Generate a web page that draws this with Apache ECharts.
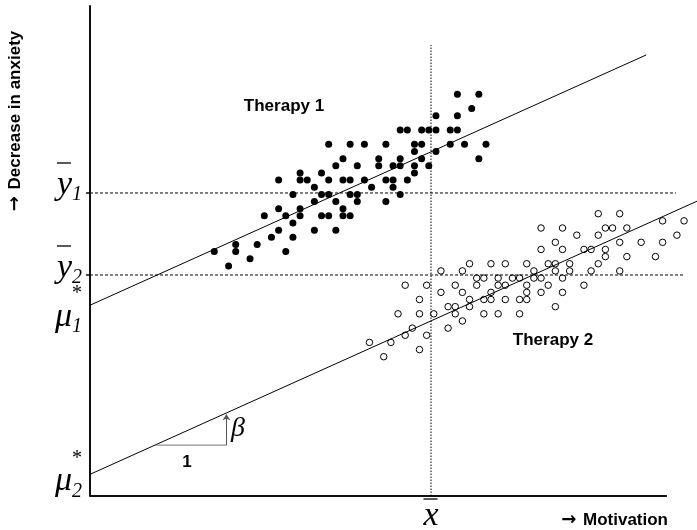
<!DOCTYPE html>
<html><head><meta charset="utf-8">
<script src="https://cdn.jsdelivr.net/npm/echarts@6/dist/echarts.min.js"></script>
<style>html,body{margin:0;padding:0;background:#fff}#c{width:697px;height:530px}</style>
</head><body><div id="c"></div>
<script>
// Therapy 1 (filled dots): [motivation, decrease in anxiety]
const therapy1 = [
  [36,58],[39,58],
  [38,56],
  [33,55],[36,55],
  [28,53],[29,53],[31,53],[32,53],[33,53],[35,53],[36,53],
  [18,51],[21,51],[23,51],[26,51],[30,51],[31,51],[35,51],[37,51],[40,51],
  [30,50],[33,50],
  [20,49],[25,49],[28,49],[31,49],[39,49],
  [19,48],[22,48],[25,48],[27,48],[28,48],[30,48],[32,48],
  [14,47],[17,47],[30,47],
  [11,46],[14,46],[15,46],[18,46],[20,46],[21,46],[23,46],[26,46],[27,46],[29,46],
  [16,45],[24,45],[27,45],
  [13,44],[17,44],[18,44],[21,44],[22,44],[28,44],
  [16,43],[19,43],[22,43],[26,43],
  [11,42],[14,42],[20,42],
  [9,41],[12,41],[14,41],[17,41],[18,41],[20,41],[21,41],
  [13,40],
  [11,39],[16,39],[19,39],
  [10,38],[13,38],
  [5,37],[8,37],
  [2,36],[5,36],[12,36],
  [7,35],
  [4,34]
];
// Therapy 2 (hollow dots)
const therapy2 = [
  [55.7,41.3],[58.7,41.3],
  [64.7,40.3],[67.7,40.3],
  [47.7,39.3],[50.7,39.3],[56.7,39.3],[57.7,39.3],[59.7,39.3],
  [52.7,38.3],[55.7,38.3],[66.7,38.3],
  [49.7,37.3],[58.7,37.3],[61.7,37.3],[64.7,37.3],
  [47.7,36.3],[50.7,36.3],[53.7,36.3],[54.7,36.3],[56.7,36.3],
  [56.7,35.3],[59.7,35.3],[63.7,35.3],
  [37.7,34.3],[40.7,34.3],[42.7,34.3],[45.7,34.3],[48.7,34.3],[49.7,34.3],[51.7,34.3],[55.7,34.3],
  [33.7,33.3],[36.7,33.3],[46.7,33.3],[49.7,33.3],[51.7,33.3],[54.7,33.3],[58.7,33.3],
  [38.7,32.3],[39.7,32.3],[41.7,32.3],[43.7,32.3],[44.7,32.3],[46.7,32.3],[47.7,32.3],[50.7,32.3],
  [28.7,31.3],[31.7,31.3],[35.7,31.3],[38.7,31.3],[41.7,31.3],[42.7,31.3],[45.7,31.3],[48.7,31.3],[53.7,31.3],
  [33.7,30.3],[36.7,30.3],[40.7,30.3],[45.7,30.3],[47.7,30.3],[50.7,30.3],
  [30.7,29.3],[37.7,29.3],[39.7,29.3],[40.7,29.3],[42.7,29.3],[44.7,29.3],[45.7,29.3],
  [34.7,28.3],[35.7,28.3],[37.7,28.3],[49.7,28.3],
  [27.7,27.3],[30.7,27.3],[32.7,27.3],[35.7,27.3],[39.7,27.3],[41.7,27.3],[44.7,27.3],
  [36.7,26.3],
  [29.7,25.3],[34.7,25.3],
  [28.7,24.3],[31.7,24.3],
  [23.7,23.3],[26.7,23.3],
  [30.7,22.3],
  [25.7,21.3]
];
// axis ranges (data units)
const xRange = [-15.38, 69.51];
const yRange = [1.82, 70.35];
const xAxisEnd = 65.3;
// group intercepts at the y axis (mu1*, mu2*) and common slope beta
const muStar = [28.5, 4.85];
const beta = 0.45;
const lineEnds = [62.4, 69.51];
// group means of y and grand mean of x
const yBar = [44.2, 32.73];
const yBarEnds = [66.57, 67.55];
const xBar = 32.31;
const xBarTop = 64.9;
// slope triangle: one unit step (10 units) on line 2
const stepX = [-6.3, 3.7];
// text annotations
const noteTexts = ['Therapy 1', 'Therapy 2', '1', 'β'];
const noteAt = [[11.75, 56.36], [49.37, 23.64], [-1.82, 6.57], [5.3, 11.19]];

const lineAt = (mu, x) => mu + beta * (x - xRange[0]);
const serif = 'Liberation Serif';
const sans = 'Liberation Sans';
const rich = {
  v: {fontFamily: serif, fontStyle: 'italic', fontSize: 34, lineHeight: 30, color: '#000'},
  s: {fontFamily: serif, fontStyle: 'italic', fontSize: 20, lineHeight: 40, verticalAlign: 'bottom', color: '#000'},
  bar: {width: 14, height: 1.3, backgroundColor: '#000', lineHeight: 4, align: 'left'},
  ast: {fontFamily: serif, fontSize: 20, lineHeight: 6, align: 'right', color: '#000'},
  b: {fontFamily: serif, fontStyle: 'italic', fontSize: 28, color: '#000'},
  t: {fontFamily: sans, fontWeight: 'bold', fontSize: 17, color: '#000'},
  a: {fontFamily: 'DejaVu Sans', fontWeight: 'bold', fontSize: 18, color: '#000'}
};
const mathLabel = (text, position, offset) => ({show: true, position, offset, formatter: text, rich, distance: 8, color: '#000'});

const base = {type: 'line', symbol: 'circle', symbolSize: 0, showSymbol: true, clip: false, silent: true, z: 2,
  label: {show: false}};

const noteSeries = noteTexts.map((txt, i) => Object.assign({}, base, {
  name: 'note ' + txt, z: 5, lineStyle: {opacity: 0, width: 0},
  data: [{value: noteAt[i], label: {show: true, position: 'inside', color: '#000', textBorderWidth: 0,
    formatter: txt === 'β' ? '{b|β}' : '{t|' + txt + '}', rich}}]
}));

const chart = echarts.init(document.getElementById('c'));
chart.setOption({
  animation: false,
  backgroundColor: '#fff',
  grid: {left: 90, right: 0, top: 6, bottom: 34},
  xAxis: {type: 'value', min: xRange[0], max: xRange[1], axisLine: {show: false}, axisTick: {show: false},
    axisLabel: {show: false}, splitLine: {show: false}},
  yAxis: {type: 'value', min: yRange[0], max: yRange[1],
    axisLine: {show: true, onZero: false, lineStyle: {color: '#111', width: 2}},
    axisTick: {show: false}, axisLabel: {show: false}, splitLine: {show: false}},
  graphic: [
    {type: 'text', x: 15, y: 121, rotation: Math.PI / 2,
      style: {text: '{a|→}  {t|Decrease in anxiety}', rich, fill: '#000',
        align: 'center', verticalAlign: 'middle', textAlign: 'center', textVerticalAlign: 'middle'}},
    {type: 'text', x: 668, y: 520,
      style: {text: '{a|→}  {t|Motivation}', rich, fill: '#000',
        align: 'right', verticalAlign: 'middle', textAlign: 'right', textVerticalAlign: 'middle'}}
  ],
  series: [
    Object.assign({}, base, {name: 'x axis', data: [[xRange[0], yRange[0]], [xAxisEnd, yRange[0]]],
      lineStyle: {color: '#111', width: 2}}),
    {type: 'lines', coordinateSystem: 'cartesian2d', silent: true, clip: false, name: 'mean ticks',
      lineStyle: {color: '#000', width: 1.5, opacity: 1},
      data: yBar.map(v => ({coords: [[xRange[0] - 0.55, v], [xRange[0], v]]}))},
    Object.assign({}, base, {name: 'ybar1', data: [
      {value: [xRange[0], yBar[0]], label: mathLabel('{bar| }\n{v|y}{s|1}', 'left', [0, -10])},
      [yBarEnds[0], yBar[0]]], lineStyle: {color: '#000', width: 1, type: [3, 2]}}),
    Object.assign({}, base, {name: 'ybar2', data: [
      {value: [xRange[0], yBar[1]], label: mathLabel('{bar| }\n{v|y}{s|2}', 'left', [0, -9])},
      [yBarEnds[1], yBar[1]]], lineStyle: {color: '#000', width: 1, type: [3, 2]}}),
    Object.assign({}, base, {name: 'xbar', data: [
      {value: [xBar, yRange[0]], label: mathLabel('{bar| }\n{v|x}', 'bottom', [0, -7])},
      [xBar, xBarTop]], lineStyle: {color: '#000', width: 1, type: [1.5, 1.5]}}),
    Object.assign({}, base, {name: 'line1', data: [
      {value: [xRange[0], muStar[0]], label: mathLabel('{ast|*}\n{v|μ}{s|1}', 'left', [0, 9])},
      [lineEnds[0], lineAt(muStar[0], lineEnds[0])]], lineStyle: {color: '#000', width: 1}}),
    Object.assign({}, base, {name: 'line2', data: [
      {value: [xRange[0], muStar[1]], label: mathLabel('{ast|*}\n{v|μ}{s|2}', 'left', [0, 4])},
      [lineEnds[1], lineAt(muStar[1], lineEnds[1])]], lineStyle: {color: '#000', width: 1}}),
    Object.assign({}, base, {name: 'step', data: [
      [stepX[0], lineAt(muStar[1], stepX[0])], [stepX[1], lineAt(muStar[1], stepX[0])]],
      lineStyle: {color: '#777', width: 1}}),
    {type: 'lines', coordinateSystem: 'cartesian2d', silent: true, symbol: ['none', 'arrow'], symbolSize: 6,
      lineStyle: {color: '#555', width: 1, opacity: 1},
      data: [{coords: [[stepX[1], lineAt(muStar[1], stepX[0])], [stepX[1], lineAt(muStar[1], stepX[1]) - 0.2]]}]},
    {type: 'scatter', name: 'Therapy 1', data: therapy1, symbolSize: 7, clip: false, silent: true, z: 3,
      itemStyle: {color: '#000', opacity: 1}},
    {type: 'scatter', name: 'Therapy 2', data: therapy2, symbolSize: 6.5, clip: false, silent: true, z: 3,
      itemStyle: {color: 'rgba(255,255,255,0)', borderColor: '#000', borderWidth: 1, opacity: 1}}
  ].concat(noteSeries)
});
</script></body></html>
